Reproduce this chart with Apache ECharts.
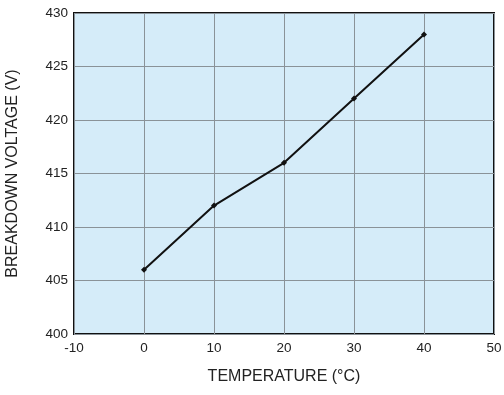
<!DOCTYPE html>
<html><head><meta charset="utf-8">
<script src="https://cdn.jsdelivr.net/npm/echarts@6/dist/echarts.min.js"></script>
<style>html,body{margin:0;padding:0;background:#fff}#c{width:504px;height:395px}</style>
</head><body><div id="c"></div>
<script>
const temperatures = [0, 10, 20, 30, 40];
const voltages = [406, 412, 416, 422, 428];
const xTitle = 'TEMPERATURE (°C)';
const yTitle = 'BREAKDOWN VOLTAGE (V)';
const chart = echarts.init(document.getElementById('c'));
chart.setOption({
  animation: false,
  grid: {left: 74, right: 10, top: 13, bottom: 61, show: true, backgroundColor: '#d5ecf9', borderColor: '#111', borderWidth: 2, outerBoundsMode: 'none', containLabel: false},
  xAxis: {
    type: 'value', min: -10, max: 50, interval: 10,
    name: xTitle, nameLocation: 'middle', nameGap: 35,
    nameTextStyle: {fontFamily: 'Liberation Sans', fontSize: 16, color: '#222'},
    axisLine: {show: false}, axisTick: {show: false},
    axisLabel: {fontFamily: 'Liberation Sans', fontSize: 13.5, color: '#222', margin: 7},
    splitLine: {lineStyle: {color: '#8a9298', width: 1}}
  },
  yAxis: {
    type: 'value', min: 400, max: 430, interval: 5,
    name: yTitle, nameLocation: 'middle', nameGap: 53,
    nameTextStyle: {fontFamily: 'Liberation Sans', fontSize: 16, color: '#222'},
    axisLine: {show: false}, axisTick: {show: false},
    axisLabel: {fontFamily: 'Liberation Sans', fontSize: 13.5, color: '#222', margin: 6},
    splitLine: {lineStyle: {color: '#8a9298', width: 1}}
  },
  series: [{
    type: 'line',
    data: temperatures.map((t, i) => [t, voltages[i]]),
    symbol: 'diamond', symbolSize: 6,
    itemStyle: {color: '#111'},
    lineStyle: {color: '#111', width: 2}
  }]
});
</script></body></html>
